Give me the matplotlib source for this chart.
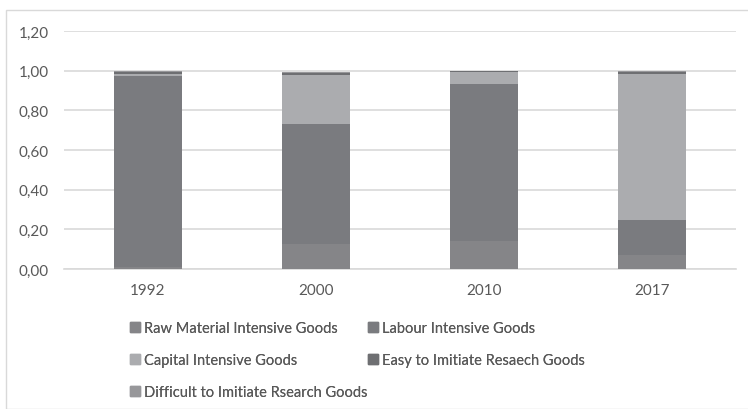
import numpy as np
import matplotlib.pyplot as plt
from matplotlib.lines import Line2D
from matplotlib.patches import Rectangle

plt.rcParams['font.family'] = ['Lato', 'DejaVu Sans']

years = ['1992', '2000', '2010', '2017']
raw_material = [0.01, 0.125, 0.14, 0.07]
labour = [0.965, 0.605, 0.795, 0.175]
capital = [0.01, 0.25, 0.06, 0.74]
easy_imitate = [0.01, 0.01, 0.003, 0.01]
difficult_imitate = [0.005, 0.005, 0.002, 0.005]

series = [
    ('Raw Material Intensive Goods', raw_material, '#858588'),
    ('Labour Intensive Goods', labour, '#7a7b7f'),
    ('Capital Intensive Goods', capital, '#abacaf'),
    ('Easy to Imitiate Resaech Goods', easy_imitate, '#6e6f72'),
    ('Difficult to Imitiate Rsearch Goods', difficult_imitate, '#97979a'),
]

fig = plt.figure(figsize=(7.48, 4.10), dpi=100)
ax = fig.add_axes([64 / 748, 1 - 270 / 410, 672 / 748, 238 / 410])

x = np.arange(len(years))
bottom = np.zeros(len(years))
for name, vals, col in series:
    ax.bar(x, vals, 0.4, bottom=bottom, color=col, label=name, zorder=3)
    bottom += np.array(vals)

ax.set_xlim(-0.5, len(years) - 0.5)
ax.set_ylim(0, 1.2)
ticks = np.arange(0, 1.21, 0.2)
ax.set_yticks(ticks)
ax.set_yticklabels(['{:.2f}'.format(t).replace('.', ',') for t in ticks])
ax.set_xticks(x)
ax.set_xticklabels(years)
ax.grid(axis='y', color='#d9d9d9', linewidth=1.2, zorder=0)
for s in ['top', 'right', 'left']:
    ax.spines[s].set_visible(False)
ax.spines['bottom'].set_color('#d9d9d9')
ax.spines['bottom'].set_linewidth(1.2)
ax.tick_params(length=0, labelsize=11, colors='#595959', pad=10)
ax.tick_params(axis='y', pad=11)

handles = [Line2D([], [], marker='s', linestyle='none', markersize=7,
                  color=col) for _, _, col in series]
labels = [name for name, _, _ in series]

# Excel-style legend: two fixed columns
leg_kw = dict(loc='upper left', frameon=False, fontsize=10.5, labelcolor='#595959',
              handletextpad=0.1, labelspacing=1.25, handlelength=1.0,
              borderaxespad=0, borderpad=0)
cols = [([0, 2, 4], 128), ([1, 3], 366)]
for idx, xpix in cols:
    leg = fig.legend([handles[i] for i in idx], [labels[i] for i in idx],
                     bbox_to_anchor=(xpix / 748, 1 - 322 / 410), **leg_kw)
    fig.add_artist(leg)

fig.patches.append(Rectangle((6 / 748, 0), 1, 1 - 11 / 410, transform=fig.transFigure,
                             fill=False, edgecolor='#d9d9d9', linewidth=1.0))

fig.savefig('out.png', dpi=100)
